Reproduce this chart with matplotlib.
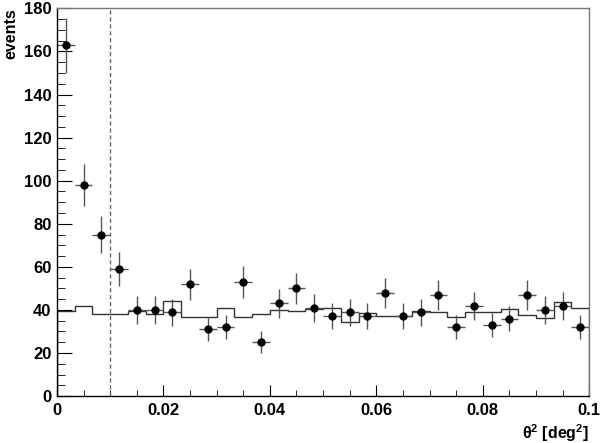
import numpy as np
import matplotlib
matplotlib.use("Agg")
import matplotlib.pyplot as plt
from matplotlib.ticker import MultipleLocator, FuncFormatter

plt.rcParams['font.family'] = ['Liberation Sans', 'DejaVu Sans']
plt.rcParams['font.weight'] = 'bold'
plt.rcParams['axes.labelweight'] = 'bold'
plt.rcParams['mathtext.default'] = 'regular'

# theta^2 histogram, 30 bins from 0 to 0.1
bin_edges = np.linspace(0.0, 0.1, 31)
on_counts = [163, 98, 75, 59, 40, 40, 39, 52, 31, 32,
             53, 25, 43, 50, 41, 37, 39, 37, 48, 37,
             39, 47, 32, 42, 33, 36, 47, 40, 42, 32]
off_counts = [39.6, 41.8, 38.0, 38.0, 39.6, 38.0, 44.2, 36.8, 36.5, 41.1,
              36.8, 38.0, 39.9, 39.6, 40.2, 40.8, 34.3, 38.5, 37.4, 37.0,
              39.6, 39.0, 36.5, 39.0, 39.0, 40.5, 37.7, 36.2, 43.6, 41.1]
theta2_cut = 0.01

on_counts = np.array(on_counts, dtype=float)
centers = 0.5 * (bin_edges[:-1] + bin_edges[1:])
half_w = 0.5 * np.diff(bin_edges)

fig = plt.figure(figsize=(6.0, 4.43), dpi=100)
ax = fig.add_axes([0.095, 0.106, 0.887, 0.875])

ax.stairs(off_counts, bin_edges, color='#333333', lw=1.0)
ax.errorbar(centers, on_counts, yerr=np.sqrt(on_counts), xerr=half_w,
            fmt='o', color='black', ms=5, ecolor='#555555', elinewidth=1.0,
            capsize=0)
ax.axvline(theta2_cut, color='#666666', ls=(0, (3, 2)), lw=1.0)

ax.set_xlim(0, 0.1)
ax.set_ylim(0, 180)
ax.xaxis.set_major_locator(MultipleLocator(0.02))
ax.xaxis.set_minor_locator(MultipleLocator(0.005))
ax.yaxis.set_major_locator(MultipleLocator(20))
ax.yaxis.set_minor_locator(MultipleLocator(5))
ax.xaxis.set_major_formatter(FuncFormatter(
    lambda v, p: '0' if v == 0 else ('0.1' if abs(v - 0.1) < 1e-9 else '%.2f' % v)))

ax.tick_params(axis='both', which='both', direction='in', labelsize=12)
ax.tick_params(axis='x', which='major', length=8, pad=5)
ax.tick_params(axis='x', which='minor', length=4.3)
ax.tick_params(axis='y', which='major', length=10.8, pad=4)
ax.tick_params(axis='y', which='minor', length=5.5)

ax.spines['top'].set_color('#777777')
ax.spines['right'].set_color('#777777')
for s in ax.spines.values():
    s.set_linewidth(1.0)

ax.set_ylabel('events', loc='top', fontsize=11.5, labelpad=4)
ax.set_xlabel('θ$^{2}$ [deg$^{2}$]', loc='right', fontsize=11.5, labelpad=3)

fig.savefig('out.png', dpi=100)
